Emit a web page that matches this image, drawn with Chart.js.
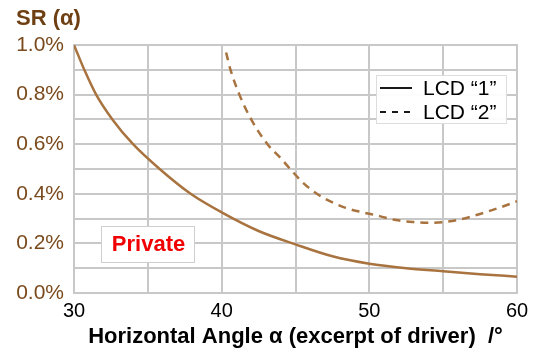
<!DOCTYPE html>
<html><head><meta charset="utf-8">
<script src="https://cdn.jsdelivr.net/npm/chart.js@4"></script>
<style>html,body{margin:0;padding:0;background:#fff}#wrap{width:540px;height:361px;position:relative}</style>
</head><body><div id="wrap"><canvas id="c" width="540" height="361"></canvas></div>
<script>
const seriesNames = ['LCD \u201c1\u201d', 'LCD \u201c2\u201d'];
const lcd1Angles = [30, 30.7, 31.5, 32.6, 34.0, 35.8, 37.9, 40, 42.5, 45, 47.5, 50, 52.5, 55, 57.5, 60];
const lcd1Values = [1.0, 0.9, 0.8, 0.7, 0.6, 0.5, 0.4, 0.325, 0.25, 0.196, 0.148, 0.118, 0.1, 0.088, 0.076, 0.066];
const lcd2Angles = [40.3, 40.6, 41.2, 42.0, 43.1, 43.9, 44.7, 45.5, 46.4, 47.4, 48.4, 49.5, 50.7, 51.8, 53, 54, 55, 56, 57, 58, 59, 60];
const lcd2Values = [0.97, 0.9, 0.8, 0.7, 0.6, 0.55, 0.496, 0.445, 0.402, 0.368, 0.343, 0.326, 0.31, 0.294, 0.286, 0.283, 0.286, 0.295, 0.31, 0.328, 0.348, 0.37];
const xTickLabels = [30, 40, 50, 60];
const yTickLabels = [0.0, 0.2, 0.4, 0.6, 0.8, 1.0];
const yTitle = 'SR (\u03b1)';
const xTitle = 'Horizontal Angle \u03b1 (excerpt of driver)  /\u00b0';
const stampText = 'Private';

const FONT = '"Liberation Sans", Arial, sans-serif';
const brown = '#A8733F';
const toPts = (xs, ys) => xs.map((x, i) => ({x: x, y: ys[i]}));

const overlay = {
  id: 'overlay',
  afterDraw(chart) {
    const ctx = chart.ctx;
    ctx.save();
    // y title
    ctx.fillStyle = '#6E3F12';
    ctx.font = 'bold 22px ' + FONT;
    ctx.textAlign = 'left'; ctx.textBaseline = 'middle';
    ctx.fillText(yTitle, 16, 19);
    // legend
    const lx = 376, ly = 75, lw = 130, lh = 48;
    ctx.fillStyle = 'rgba(255,255,255,0.95)';
    ctx.fillRect(lx, ly, lw, lh);
    ctx.strokeStyle = '#DDDDDD'; ctx.lineWidth = 1;
    ctx.strokeRect(lx + 0.5, ly + 0.5, lw, lh);
    ctx.strokeStyle = '#000'; ctx.lineWidth = 1.8;
    ctx.font = '21px ' + FONT;
    ctx.fillStyle = '#000';
    [0, 1].forEach(i => {
      const yy = ly + 13 + i * 24;
      ctx.setLineDash(i === 1 ? [6, 6] : []);
      ctx.beginPath(); ctx.moveTo(380, yy); ctx.lineTo(412, yy); ctx.stroke();
      ctx.fillText(seriesNames[i], 423, yy + 1);
    });
    ctx.setLineDash([]);
    // stamp
    const px = 101, py = 226, pw = 93, ph = 36;
    ctx.fillStyle = '#fff';
    ctx.fillRect(px, py, pw, ph);
    ctx.strokeStyle = '#CFCFCF'; ctx.lineWidth = 1;
    ctx.strokeRect(px + 0.5, py + 0.5, pw, ph);
    ctx.fillStyle = '#F00000';
    ctx.font = 'bold 22px ' + FONT;
    ctx.textAlign = 'center';
    ctx.fillText(stampText, px + pw / 2 + 1, py + ph / 2 + 1);
    ctx.restore();
  }
};

new Chart(document.getElementById('c'), {
  type: 'scatter',
  data: {
    datasets: [
      {label: seriesNames[0], data: toPts(lcd1Angles, lcd1Values), showLine: true, borderColor: brown, borderWidth: 2.5, pointRadius: 0, cubicInterpolationMode: 'monotone', fill: false},
      {label: seriesNames[1], data: toPts(lcd2Angles, lcd2Values), showLine: true, borderColor: brown, borderWidth: 2.5, borderDash: [8, 6], pointRadius: 0, cubicInterpolationMode: 'monotone', fill: false}
    ]
  },
  options: {
    responsive: false, animation: false,
    layout: {padding: {left: 0, right: 23, top: 45, bottom: 0}},
    plugins: {legend: {display: false}, tooltip: {enabled: false}},
    scales: {
      x: {
        type: 'linear', min: 30, max: 60,
        ticks: {stepSize: 5, autoSkip: false, maxRotation: 0, color: '#000', padding: 6,
          font: {size: 20, family: FONT},
          callback: v => xTickLabels.includes(v) ? String(v) : ''},
        grid: {color: '#C8C8C8', lineWidth: 2, drawTicks: false},
        border: {color: '#C8C8C8', width: 2},
        title: {display: true, text: xTitle, color: '#000', padding: {top: 0, bottom: 11},
          font: {size: 22, weight: 'bold', family: FONT}},
        afterFit(s) { s.height = 68; }
      },
      y: {
        min: 0, max: 1.0,
        ticks: {stepSize: 0.1, autoSkip: false, color: '#7A4A1C', padding: 10,
          font: {size: 21, family: FONT},
          callback: v => {
            const r = Math.round(v * 10) / 10;
            return yTickLabels.some(t => Math.abs(t - r) < 1e-6) && Math.abs(v - r) < 1e-6 ? r.toFixed(1) + '%' : '';
          }},
        grid: {color: '#C8C8C8', lineWidth: 2, drawTicks: false},
        border: {color: '#C8C8C8', width: 2},
        afterFit(s) { s.width = 74; }
      }
    }
  },
  plugins: [overlay, {
    id: 'frame',
    beforeDatasetsDraw(chart) {
      const {ctx, chartArea: a} = chart;
      ctx.save(); ctx.strokeStyle = '#C8C8C8'; ctx.lineWidth = 2;
      ctx.strokeRect(a.left, a.top, a.right - a.left, a.bottom - a.top);
      ctx.restore();
    }
  }]
});
</script></body></html>
